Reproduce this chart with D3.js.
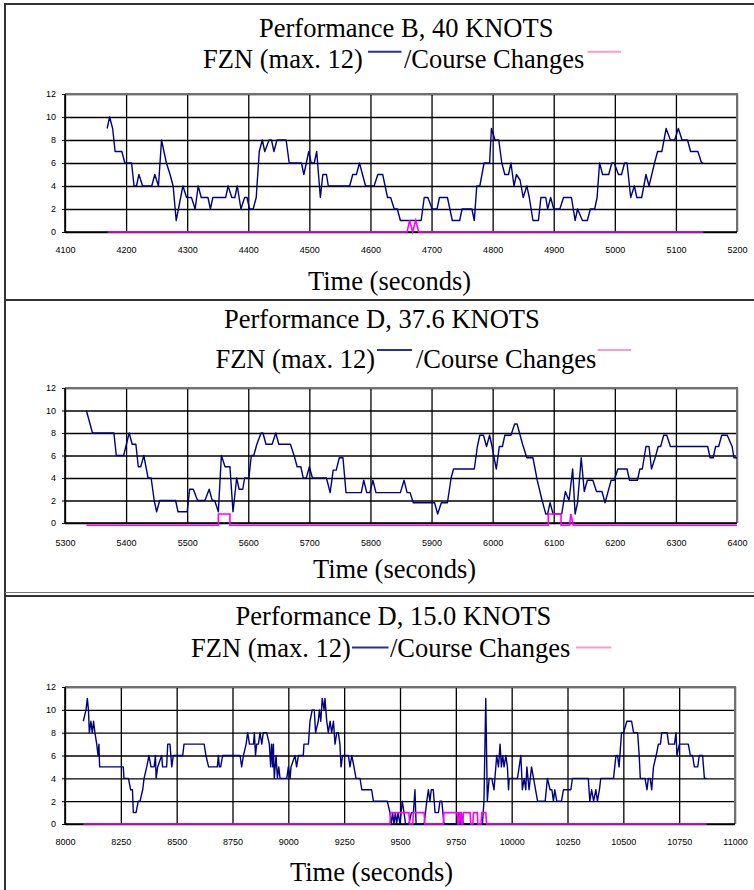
<!DOCTYPE html>
<html>
<head>
<meta charset="utf-8">
<script src="https://cdn.jsdelivr.net/npm/d3@7"></script>
<style>
  body { margin: 0; background: #fff; }
  svg { display: block; }
  .tick text { font-family: "Liberation Sans", Arial, sans-serif; font-size: 9px; fill: #000; }
  .serif { font-family: "Liberation Serif", "Times New Roman", serif; font-size: 26.5px; fill: #000; }
</style>
</head>
<body>
<div id="chart"></div>
<script>
// ---- data ----
const titles = ["Performance B, 40 KNOTS", "Performance D, 37.6 KNOTS", "Performance D, 15.0 KNOTS"];
const legendFzn = "FZN (max. 12)";
const legendCourse = "/Course Changes";
const axisTitle = "Time (seconds)";
const yTicks = [0, 2, 4, 6, 8, 10, 12];

const xTicksB40 = [4100, 4200, 4300, 4400, 4500, 4600, 4700, 4800, 4900, 5000, 5100, 5200];
const xTicksD376 = [5300, 5400, 5500, 5600, 5700, 5800, 5900, 6000, 6100, 6200, 6300, 6400];
const xTicksD150 = [8000, 8250, 8500, 8750, 9000, 9250, 9500, 9750, 10000, 10250, 10500, 10750, 11000];

const fznB40 = [[4169,9],[4173,10],[4178,9],[4182,7],[4193,7],[4198,6],[4209,6],[4213,4],[4217,4],[4221,5],[4227,4],[4242,4],[4247,5],[4253,4],[4258,8],[4266,6],[4272,5],[4277,4],[4282,1],[4293,4],[4299,3],[4307,3],[4313,2],[4318,4],[4323,3],[4334,3],[4338,2],[4342,3],[4363,3],[4367,4],[4373,3],[4378,3],[4382,4],[4388,2],[4394,3],[4398,3],[4402,2],[4408,2],[4413,3],[4418,7],[4423,8],[4427,7],[4434,8],[4438,8],[4442,7],[4447,8],[4462,8],[4467,6],[4487,6],[4491,5],[4499,7],[4503,6],[4508,6],[4512,7],[4518,3],[4522,5],[4528,5],[4531,4],[4566,4],[4571,5],[4577,5],[4582,6],[4592,4],[4606,4],[4612,5],[4620,5],[4628,3],[4633,3],[4639,2],[4644,2],[4649,1],[4683,1],[4688,3],[4694,3],[4701,2],[4709,2],[4713,3],[4726,3],[4734,1],[4746,1],[4750,2],[4766,2],[4770,1],[4774,4],[4779,4],[4786,6],[4795,6],[4798,9],[4804,8],[4810,8],[4815,6],[4820,5],[4826,5],[4830,6],[4835,4],[4839,5],[4845,4.5],[4850,3],[4856,4],[4860,3],[4866,1],[4875,1],[4879,3],[4887,3],[4890,2],[4895,3],[4900,2],[4910,2],[4916,3],[4929,3],[4935,1],[4939,2],[4947,1],[4955,1],[4960,2],[4967,2],[4971,3],[4975,6],[4980,5],[4990,5],[4995,6],[4999,6],[5006,5],[5011,5],[5016,6],[5020,6],[5026,3],[5032,4],[5036,3],[5044,3],[5051,5],[5056,4],[5065,6],[5070,7],[5077,7],[5084,9],[5091,8],[5098,8],[5104,9],[5110,8],[5119,8],[5124,7],[5136,7],[5142,6],[5145,6]];
const courseB40 = [[4170,0],[4660,0],[4664,1],[4669,0],[4674,1],[4679,0],[5145,0]];

const fznD376 = [[5335,10],[5345,8],[5380,8],[5384,6],[5396,6],[5405,8],[5410,7],[5416,7],[5420,5],[5424,5],[5429,6],[5436,4],[5441,4],[5446,2],[5450,1],[5455,2],[5481,2],[5485,1],[5500,1],[5504,3],[5510,3],[5517,2],[5529,2],[5536,3],[5541,2],[5545,2],[5551,1],[5556,6],[5562,5],[5570,5],[5575,1],[5581,4],[5585,3],[5591,3],[5594,4],[5601,4],[5605,6],[5609,6],[5614,7],[5621,8],[5624,8],[5629,7],[5639,7],[5645,8],[5650,7],[5669,7],[5675,6],[5680,5],[5686,5],[5690,4],[5695,4],[5700,5],[5705,4],[5728,4],[5734,2.7],[5739,4.7],[5744,4.7],[5749,5.8],[5755,5.8],[5760,2.7],[5785,2.7],[5789,3.8],[5794,2.7],[5799,2.7],[5804,3.8],[5809,2.7],[5849,2.7],[5855,3.8],[5860,2.7],[5865,2.7],[5870,1.8],[5905,1.8],[5910,0.8],[5916,1.8],[5926,1.8],[5932,4],[5936,4.8],[5970,4.8],[5975,6.8],[5979,7.8],[5985,7.8],[5990,6.8],[5995,7.8],[5999,6.8],[6006,4.8],[6011,6.8],[6016,6.8],[6020,7.8],[6030,7.8],[6036,8.8],[6040,8.8],[6049,7],[6056,5.8],[6066,5.8],[6073,3.8],[6081,2],[6087,0.8],[6090,0.8],[6094,1.8],[6099,0.8],[6113,0.8],[6119,2.8],[6125,2],[6131,4.8],[6135,0.8],[6139,1.8],[6145,5.8],[6150,2.8],[6155,3.8],[6164,3.8],[6170,2.8],[6179,2.8],[6184,1.8],[6194,3.8],[6199,3.8],[6205,4.8],[6220,4.8],[6224,3.8],[6237,3.8],[6241,4.8],[6245,4.8],[6251,6.8],[6256,6.8],[6260,4.8],[6266,5.8],[6271,6.8],[6275,6.8],[6280,7.8],[6285,7.8],[6291,6.8],[6352,6.8],[6356,5.8],[6361,5.8],[6365,6.8],[6370,6.8],[6375,7.8],[6384,7.8],[6392,6.8],[6395,5.8],[6400,5.8]];
const courseD376 = [[5335,-0.2],[5551,-0.2],[5551,0.8],[5570,0.8],[5570,-0.2],[6091,-0.2],[6091,0.8],[6112,0.8],[6112,-0.2],[6126,-0.2],[6128,0.8],[6132,-0.2],[6400,-0.2]];

const fznD150 = [[8082,9],[8094,10],[8100,11],[8105,10],[8109,8],[8116,9],[8122,8],[8128,9],[8134,8],[8142,7],[8148,6],[8152,7],[8155,5],[8261,5],[8264,4],[8284,4],[8294,3],[8302,3],[8306,1],[8318,1],[8328,2],[8336,2],[8348,3],[8354,4],[8366,5],[8376,6],[8385,5],[8399,5],[8405,6],[8408,4],[8415,5],[8433,6],[8437,5],[8455,5],[8460,7],[8470,7],[8478,5],[8485,6],[8527,6],[8533,7],[8623,7],[8631,6],[8643,5],[8682,5],[8687,6],[8691,5],[8697,5],[8706,6],[8784,6],[8791,5],[8799,6],[8811,7],[8818,8],[8826,7],[8844,7],[8848,8],[8853,6],[8858,7],[8866,7],[8873,8],[8881,7],[8888,8],[8903,8],[8915,7],[8921,5],[8925,7],[8930,5],[8933,7],[8937,4],[8945,6],[8951,4],[8957,5],[8963,4],[8993,4],[9000,5],[9008,4],[9012,5],[9030,6],[9037,5],[9045,6],[9067,6],[9070,7],[9090,7],[9097,9],[9107,10],[9116,10],[9122,8],[9134,9],[9139,10],[9145,9],[9152,11],[9160,10],[9164,11],[9172,9],[9179,8],[9187,9],[9194,8],[9202,9],[9209,7],[9217,8],[9224,8],[9231,7],[9236,5],[9243,6],[9269,6],[9276,5],[9284,6],[9294,5],[9303,4],[9321,4],[9329,3],[9373,3],[9381,2],[9443,2],[9455,1],[9461,0],[9467,1],[9473,0],[9479,1],[9485,0],[9491,1],[9500,0],[9510,2],[9518,1],[9525,0],[9540,0],[9551,1],[9560,1],[9567,3],[9572,0],[9608,0],[9620,2],[9627,3],[9634,2],[9640,3],[9649,3],[9657,1],[9672,1],[9679,2],[9687,2],[9697,0],[9757,0],[9764,1],[9769,0],[9775,1],[9784,0],[9869,0],[9876,2],[9884,11],[9891,2],[9899,4],[9911,4],[9921,3],[9933,6],[9941,5],[9948,7],[9954,5],[9960,6],[9966,5],[9974,6],[9981,5],[9986,3],[9989,4],[10026,4],[10041,6],[10048,3],[10056,4],[10063,3],[10068,5],[10078,3],[10089,5],[10098,4],[10116,2],[10150,2],[10160,4],[10172,3],[10180,3],[10187,2],[10193,3],[10202,2],[10223,2],[10232,3],[10265,3],[10272,4],[10343,4],[10350,2],[10358,3],[10367,2],[10377,3],[10384,2],[10393,3],[10399,4],[10456,4],[10467,6],[10474,6],[10481,5],[10492,8],[10501,8],[10516,9],[10537,9],[10546,8],[10564,8],[10571,6],[10576,4],[10597,4],[10606,3],[10612,4],[10620,4],[10627,3],[10635,5],[10647,6],[10657,7],[10666,7],[10672,8],[10696,8],[10703,7],[10729,7],[10736,8],[10740,6],[10751,7],[10791,7],[10800,6],[10810,6],[10818,5],[10833,5],[10840,6],[10855,6],[10863,4],[10873,4]];
const courseD150 = [[8082,0],[9455,0],[9458,1],[9540,1],[9543,0],[9557,0],[9560,1],[9608,1],[9611,0],[9694,0],[9697,1],[9757,1],[9760,0],[9764,0],[9767,1],[9773,1],[9776,0],[9781,0],[9784,1],[9814,1],[9817,0],[9826,0],[9829,1],[9846,1],[9849,0],[9863,0],[9866,1],[9884,1],[9888,0],[10873,0]];

// ---- layout ----
const W = 754, H = 890;
const panels = [
  { title: titles[0], fzn: fznB40, course: courseB40, ticks: xTicksB40,
    plot: { x0: 65, x1: 737, y0: 94, y1: 232 }, labelDy: 23.5,
    titleX: 259, titleY: 36.7, legY: 68, legLineY: 51.7,
    fznX: 203, blueX: [368, 401.5], courseX: 404, pinkX: [587.5, 621],
    axisX: 308, axisY: 290 },
  { title: titles[1], fzn: fznD376, course: courseD376, ticks: xTicksD376,
    plot: { x0: 65, x1: 737, y0: 388, y1: 523 }, labelDy: 25.5,
    titleX: 224, titleY: 328.3, legY: 368.3, legLineY: 350,
    fznX: 215.4, blueX: [377, 412], courseX: 416, pinkX: [597.6, 631],
    axisX: 313, axisY: 577.5 },
  { title: titles[2], fzn: fznD150, course: courseD150, ticks: xTicksD150,
    plot: { x0: 65, x1: 735, y0: 687, y1: 824 }, labelDy: 23.5,
    titleX: 235.6, titleY: 625, legY: 656.7, legLineY: 647.5,
    fznX: 191, blueX: [352, 388.5], courseX: 390, pinkX: [576, 611.5],
    axisX: 290, axisY: 880.5 }
];

const svg = d3.select("#chart").append("svg")
    .attr("width", W)
    .attr("height", H);

// panel frames
const frame = svg.append("g").attr("stroke", "#333").attr("fill", "none").attr("shape-rendering", "crispEdges");
frame.append("line").attr("x1", 4).attr("x2", W).attr("y1", 4).attr("y2", 4).attr("stroke-width", 2);
frame.append("line").attr("x1", 5).attr("x2", 5).attr("y1", 4).attr("y2", H).attr("stroke-width", 2);
frame.append("line").attr("x1", 5).attr("x2", W).attr("y1", 299.5).attr("y2", 299.5).attr("stroke-width", 2);
frame.append("line").attr("x1", 5).attr("x2", W).attr("y1", 592).attr("y2", 592).attr("stroke-width", 1).attr("stroke", "#777");
frame.append("line").attr("x1", 5).attr("x2", W).attr("y1", 596).attr("y2", 596).attr("stroke-width", 2);

panels.forEach(p => {
    const b = p.plot;
    const x = d3.scaleLinear()
        .domain([p.ticks[0], p.ticks[p.ticks.length - 1]])
        .range([b.x0, b.x1]);
    const y = d3.scaleLinear()
        .domain([0, 12])
        .range([b.y1, b.y0]);

    const g = svg.append("g");

    // vertical grid
    g.append("g")
        .attr("transform", "translate(0," + b.y1 + ")")
        .call(d3.axisBottom(x).tickValues(p.ticks).tickSize(-(b.y1 - b.y0)).tickFormat(""))
        .call(s => s.select(".domain").remove())
        .call(s => s.selectAll(".tick line").attr("stroke", "#000").attr("stroke-width", 1.3));

    // horizontal grid
    g.append("g")
        .attr("transform", "translate(" + b.x0 + ",0)")
        .call(d3.axisLeft(y).tickValues(yTicks).tickSize(-(b.x1 - b.x0)).tickFormat(""))
        .call(s => s.select(".domain").remove())
        .call(s => s.selectAll(".tick line").attr("stroke", "#000").attr("stroke-width", 1.3));

    // top & right border (grey), left & bottom axis (black)
    g.append("path")
        .attr("d", "M" + b.x0 + "," + b.y0 + "H" + b.x1 + "V" + b.y1)
        .attr("fill", "none").attr("stroke", "#707070").attr("stroke-width", 2);
    g.append("path")
        .attr("d", "M" + b.x0 + "," + b.y0 + "V" + b.y1 + "H" + b.x1)
        .attr("fill", "none").attr("stroke", "#000").attr("stroke-width", 1.6);

    // tick labels
    g.append("g")
        .attr("transform", "translate(0," + b.y1 + ")")
        .call(d3.axisBottom(x).tickValues(p.ticks).tickSize(0).tickPadding(p.labelDy - 9).tickFormat(d3.format("d")))
        .call(s => s.select(".domain").remove());
    g.append("g")
        .attr("transform", "translate(" + b.x0 + ",0)")
        .call(d3.axisLeft(y).tickValues(yTicks).tickSize(3).tickPadding(6).tickFormat(d3.format("d")))
        .call(s => s.select(".domain").remove())
        .call(s => s.selectAll(".tick line").attr("stroke", "#000"));

    // series
    const line = d3.line().x(d => x(d[0])).y(d => y(d[1]));
    g.append("path")
        .datum(p.fzn)
        .attr("d", line)
        .attr("fill", "none")
        .attr("stroke", "#000080")
        .attr("stroke-width", 1.4)
        .attr("stroke-linejoin", "round");
    g.append("path")
        .datum(p.course)
        .attr("d", line)
        .attr("fill", "none")
        .attr("stroke", "#ff00ff")
        .attr("stroke-width", 1.6);

    // titles and legend
    g.append("text").attr("class", "serif").attr("x", p.titleX).attr("y", p.titleY).text(p.title);
    g.append("text").attr("class", "serif").attr("x", p.fznX).attr("y", p.legY).text(legendFzn);
    g.append("line").attr("x1", p.blueX[0]).attr("x2", p.blueX[1])
        .attr("y1", p.legLineY).attr("y2", p.legLineY)
        .attr("stroke", "#2b2f93").attr("stroke-width", 2);
    g.append("text").attr("class", "serif").attr("x", p.courseX).attr("y", p.legY).text(legendCourse);
    g.append("line").attr("x1", p.pinkX[0]).attr("x2", p.pinkX[1])
        .attr("y1", p.legLineY).attr("y2", p.legLineY)
        .attr("stroke", "#ff99cc").attr("stroke-width", 2);
    g.append("text").attr("class", "serif").attr("x", p.axisX).attr("y", p.axisY).text(axisTitle);
});
</script>
</body>
</html>
